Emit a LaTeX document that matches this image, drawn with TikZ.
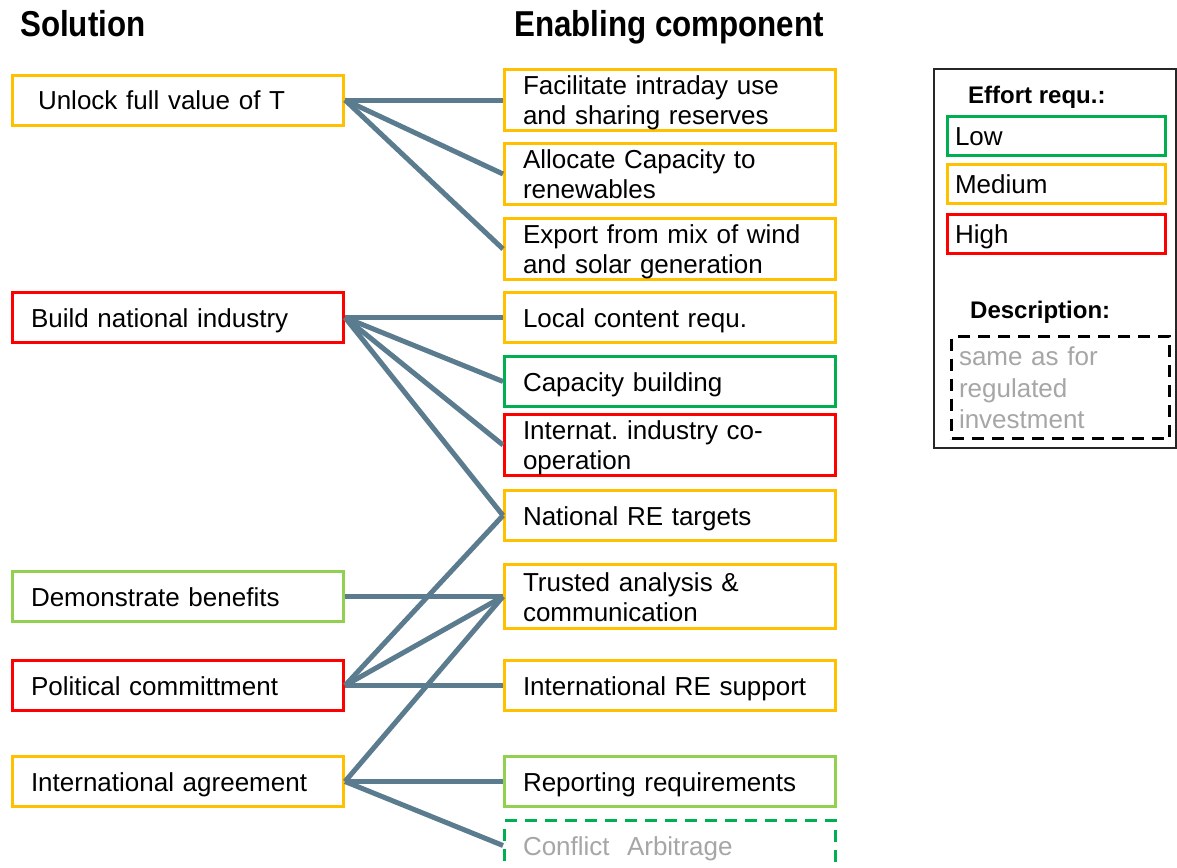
\documentclass[tikz,border=0pt]{standalone}
\usepackage{fontspec}
\setmainfont{Liberation Sans}
\usetikzlibrary{positioning}
\frenchspacing

\definecolor{effmed}{HTML}{FFC000}
\definecolor{effhigh}{HTML}{FF0000}
\definecolor{efflow}{HTML}{00B050}
\definecolor{efflight}{HTML}{92D050}
\definecolor{linkcol}{HTML}{5B7B8F}
\definecolor{desccol}{HTML}{A6A6A6}

\begin{document}
\begin{tikzpicture}[x=1pt,y=-1pt,
    box/.style={rectangle,draw,line width=3pt,fill=white,font=\fontsize{26}{30}\selectfont,
      minimum width=331pt,minimum height=50pt,inner xsep=18.5pt,inner ysep=0pt,
      text width=294pt,align=left,
      execute at begin node={\rule{0pt}{25pt}},execute at end node={\rule[-6pt]{0pt}{6pt}}},
    twoline/.style={box,minimum height=61pt},
    head/.style={font=\fontsize{36}{40}\selectfont\bfseries,anchor=base west,inner sep=0pt},
    legtitle/.style={font=\fontsize{24}{28}\selectfont\bfseries,anchor=base west,inner sep=0pt},
    legitem/.style={box,minimum width=218pt,minimum height=39pt,inner xsep=7.5pt,text width=203pt},
    dashbox/.style={dash pattern=on 12pt off 8pt,text=desccol},
    link/.style={draw=linkcol,line width=5pt}]

  \useasboundingbox (0,0) rectangle (1177,867);
  \clip (0,0) rectangle (1177,867);

  \node[head] (solhead) at (20,37) {\scalebox{0.87}[1]{Solution}};
  \node[head] (enahead) at (514,37) {\scalebox{0.87}[1]{Enabling component}};

  % enabling components
  \node[twoline,draw=effmed] (fac) at (670,100) {Facilitate intraday use\\and sharing reserves};
  \node[twoline,draw=effmed,below=10pt of fac] (alloc) {Allocate Capacity to\\renewables};
  \node[twoline,draw=effmed,below=11pt of alloc] (export) {Export from mix of wind\\and solar generation};
  \node[box,draw=effmed,below=10pt of export] (local) {Local content requ.};
  \node[box,draw=efflow,below=11pt of local] (capb) {Capacity building};
  \node[twoline,draw=effhigh,below=5pt of capb] (indcoop) {Internat. industry co-\\operation};
  \node[box,draw=effmed,below=12pt of indcoop] (natre) {National RE targets};
  \node[twoline,draw=effmed,minimum height=64pt,below=21pt of natre] (trust) {Trusted analysis \&\\communication};
  \node[box,draw=effmed,below=29pt of trust] (intre) {International RE support};
  \node[box,draw=efflight,below=43pt of intre] (report) {Reporting requirements};
  \node[box,draw=efflow,dashbox,below=11pt of report] (arbit) {Conflict\ \ Arbitrage};

  % solutions
  \node[box,draw=effmed,left=158pt of fac] (unlock) {\hspace*{7pt}Unlock full value of T};
  \node[box,draw=effhigh,left=158pt of local] (build) {Build national industry};
  \node[box,draw=efflight,left=158pt of trust] (demo) {Demonstrate benefits};
  \node[box,draw=effhigh,left=158pt of intre] (polit) {Political committment};
  \node[box,draw=effmed,left=158pt of report] (intagr) {International agreement};

  \path[link] (unlock.east) edge (fac.west) edge (alloc.west) edge (export.west);
  \path[link] (build.east) edge (local.west) edge (capb.west) edge (indcoop.west) edge (natre.west);
  \path[link] (demo.east) edge (trust.west);
  \path[link] (polit.east) edge (natre.west) edge (trust.west) edge (intre.west);
  \path[link] (intagr.east) edge (trust.west) edge (report.west) edge (arbit.west);

  % legend
  \draw[line width=1.5pt,black!85] (934,69) rectangle (1176,448);
  \node[legtitle] (efftitle) at (968,103) {Effort requ.:};
  \node[legitem,draw=efflow] (low) at (1056.5,136) {Low};
  \node[legitem,draw=effmed,below=6pt of low] (med) {Medium};
  \node[legitem,draw=effhigh,below=8pt of med] (high) {High};
  \node[legtitle] (desctitle) at (970,318) {Description:};
  \node[legitem,draw=black,dashbox,minimum height=102pt,font=\fontsize{26}{31.5}\selectfont] (desc) at (1060.5,387.5) {same as for\\regulated\\investment};

\end{tikzpicture}
\end{document}
